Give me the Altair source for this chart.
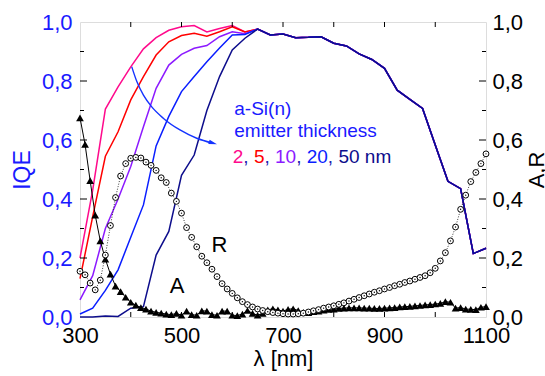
import altair as alt
import pandas as pd

# ---------------- data ----------------
iqe_wl = [300, 325, 350, 375, 400, 425, 450, 475, 500, 525, 550, 575, 600, 625, 650]
iqe_2nm = [0.20, 0.43, 0.705, 0.78, 0.848, 0.909, 0.947, 0.972, 0.984, 0.988, 0.966, 0.978, 0.988, 0.966, 0.976]
iqe_5nm = [0.13, 0.34, 0.545, 0.628, 0.736, 0.815, 0.888, 0.933, 0.954, 0.962, 0.952, 0.967, 0.984, 0.966, 0.976]
iqe_10nm = [0.058, 0.14, 0.30, 0.40, 0.51, 0.645, 0.775, 0.854, 0.89, 0.911, 0.92, 0.95, 0.967, 0.96, 0.976]
iqe_20nm = [0.01, 0.03, 0.09, 0.16, 0.27, 0.38, 0.58, 0.68, 0.764, 0.815, 0.865, 0.912, 0.956, 0.958, 0.976]
iqe_50nm = [0.0, 0.0, 0.003, 0.002, 0.03, 0.035, 0.21, 0.29, 0.48, 0.549, 0.70, 0.815, 0.905, 0.945, 0.976]
tail_wl = [675, 700, 725, 750, 775, 800, 825, 850, 875, 900, 925, 950, 975, 1000, 1025, 1050, 1075, 1100]
iqe_tail = [0.956, 0.959, 0.947, 0.948, 0.95, 0.928, 0.919, 0.892, 0.873, 0.843, 0.769, 0.738, 0.707, 0.583, 0.46, 0.435, 0.215, 0.233]

ar_wl = [300, 310, 320, 330, 340, 350, 360, 370, 380, 390, 400, 410, 420, 430, 440, 450, 460, 470, 480, 490,
         500, 510, 520, 530, 540, 550, 560, 570, 580, 590, 600, 610, 620, 630, 640, 650, 660, 670, 680, 690,
         700, 710, 720, 730, 740, 750, 760, 770, 780, 790, 800, 810, 820, 830, 840, 850, 860, 870, 880, 890,
         900, 910, 920, 930, 940, 950, 960, 970, 980, 990, 1000, 1010, 1020, 1030, 1040, 1050, 1060, 1070,
         1080, 1090, 1100]
refl = [0.155, 0.143, 0.115, 0.092, 0.125, 0.21, 0.31, 0.405, 0.478, 0.52, 0.538, 0.541, 0.539, 0.525, 0.514,
        0.497, 0.472, 0.456, 0.42, 0.392, 0.352, 0.303, 0.27, 0.238, 0.206, 0.184, 0.162, 0.137, 0.113, 0.095,
        0.08, 0.065, 0.052, 0.042, 0.034, 0.027, 0.022, 0.018, 0.015, 0.013, 0.011, 0.01, 0.01, 0.011, 0.013,
        0.017, 0.021, 0.025, 0.03, 0.034, 0.038, 0.043, 0.048, 0.054, 0.06, 0.066, 0.072, 0.078, 0.084, 0.089,
        0.095, 0.1, 0.106, 0.111, 0.117, 0.122, 0.128, 0.134, 0.14, 0.15, 0.165, 0.19, 0.218, 0.258, 0.305,
        0.365, 0.413, 0.459, 0.49, 0.52, 0.553]
absorb = [0.675, 0.585, 0.462, 0.345, 0.258, 0.196, 0.145, 0.105, 0.086, 0.067, 0.05, 0.04, 0.032, 0.027, 0.02,
          0.016, 0.013, 0.01, 0.008, 0.012, 0.006, 0.02, 0.008, 0.006, 0.021, 0.02, 0.008, 0.006, 0.02, 0.02,
          0.006, 0.005, 0.01, 0.022, 0.012, 0.006, 0.012, 0.024, 0.028, 0.024, 0.02, 0.026, 0.028, 0.022, 0.016,
          0.015, 0.018, 0.02, 0.023, 0.026, 0.027, 0.029, 0.03, 0.031, 0.031, 0.031, 0.03, 0.03, 0.029, 0.029,
          0.03, 0.031, 0.032, 0.034, 0.035, 0.036, 0.038, 0.039, 0.041, 0.042, 0.044, 0.046, 0.052, 0.05, 0.03,
          0.032, 0.027, 0.026, 0.025, 0.033, 0.035]

series_names = ["2 nm", "5 nm", "10 nm", "20 nm", "50 nm"]
series_colors = ["#ff0a8c", "#ff0000", "#8c1aff", "#0a1eff", "#0d0d8c"]
series_values = [iqe_2nm, iqe_5nm, iqe_10nm, iqe_20nm, iqe_50nm]

# arrow path (data units)
arrow_wl = [402, 412, 425, 441, 464, 497, 530, 562]
arrow_v = [0.848, 0.798, 0.752, 0.713, 0.674, 0.634, 0.606, 0.589]

# annotation texts
note_lines = ["a-Si(n)", "emitter thickness"]
thick_parts = ["2", ", ", "5", ", ", "10", ", ", "20", ", ", "50 nm"]
thick_colors = ["#ff0a8c", "#2020b0", "#ff0000", "#2020b0", "#8c1aff", "#2020b0", "#0a1eff", "#2020b0", "#0d0d8c"]

x_major = [300, 500, 700, 900, 1100]
x_minor = [400, 500, 600, 700, 800, 900, 1000]
y_major = [0.2, 0.4, 0.6, 0.8]
y_minor = [0.1, 0.3, 0.5, 0.7, 0.9]

# ---------------- layout ----------------
W, H = 406, 295
FONT = "Liberation Sans"
BLUE = "#1a1aff"
PX_PER_NM = W / 800.0

x_scale = alt.Scale(domain=[300, 1100], nice=False, zero=False)
y_scale = alt.Scale(domain=[0, 1], nice=False, zero=False)
comma = "replace(format(datum.value, '.1f'), '.', ',')"

x_axis = alt.Axis(orient="bottom", values=x_major, format="d", labelFont=FONT, labelFontSize=22,
                  labelColor="black", labelPadding=8, labelFlush=False, labelOverlap=False,
                  ticks=False, domain=False, grid=False, title="λ [nm]", titleFont=FONT,
                  titleFontSize=22, titleFontWeight="normal", titleColor="black",
                  titleX=W / 2, titleY=48, titleAlign="center", titleBaseline="alphabetic")
left_axis = alt.Axis(orient="left", values=[0, 0.2, 0.4, 0.6, 0.8, 1.0], labelExpr=comma,
                     labelFont=FONT, labelFontSize=22, labelColor=BLUE, labelPadding=8,
                     labelFlush=False, labelOverlap=False, ticks=False, domain=False, grid=False,
                     title="IQE", titleFont=FONT, titleFontSize=23, titleFontWeight="normal",
                     titleColor=BLUE, titleAngle=270, titleX=-58, titleY=H / 2,
                     titleAlign="center", titleBaseline="middle")
right_axis = alt.Axis(orient="right", values=[0, 0.2, 0.4, 0.6, 0.8, 1.0], labelExpr=comma,
                      labelFont=FONT, labelFontSize=22, labelColor="black", labelPadding=6,
                      labelFlush=False, labelOverlap=False, ticks=False, domain=False, grid=False,
                      title="A,R", titleFont=FONT, titleFontSize=22, titleFontWeight="normal",
                      titleColor="black", titleAngle=270, titleX=50, titleY=H / 2,
                      titleAlign="center", titleBaseline="middle")


def X():
    return alt.X("wl:Q", scale=x_scale, axis=x_axis)


def YL():
    return alt.Y("v:Q", scale=y_scale, axis=left_axis)


def YR():
    return alt.Y("v:Q", scale=y_scale, axis=right_axis)


# IQE lines
left_layers = []
for name, vals, col in zip(series_names, series_values, series_colors):
    df = pd.DataFrame({"wl": iqe_wl + tail_wl, "v": vals + iqe_tail})
    left_layers.append(alt.Chart(df).mark_line(color=col, strokeWidth=1.5).encode(x=X(), y=YL()))

# frame ticks (inward)
df_xt = pd.DataFrame({"wl": x_minor})
left_layers.append(alt.Chart(df_xt).mark_rule(color="black", strokeWidth=1).encode(
    x=X(), y=alt.value(H), y2=alt.value(H - 5)))
left_layers.append(alt.Chart(df_xt).mark_rule(color="black", strokeWidth=1).encode(
    x=X(), y=alt.value(0), y2=alt.value(5)))
for vals, ln in [(y_major, 7), (y_minor, 4)]:
    dft = pd.DataFrame({"v": vals})
    left_layers.append(alt.Chart(dft).mark_rule(color="black", strokeWidth=1).encode(
        y=YL(), x=alt.value(0), x2=alt.value(ln)))
    left_layers.append(alt.Chart(dft).mark_rule(color="black", strokeWidth=1).encode(
        y=YL(), x=alt.value(W - ln), x2=alt.value(W)))

# arrow
df_arrow = pd.DataFrame({"wl": arrow_wl, "v": arrow_v})
left_layers.append(alt.Chart(df_arrow).mark_line(color="#1433ff", strokeWidth=1.4,
                                                 interpolate="monotone").encode(x=X(), y=YL()))
df_head = pd.DataFrame({"wl": [562.0], "v": [0.5895]})
left_layers.append(alt.Chart(df_head).mark_point(
    shape="M -1 -0.55 L 1 0 L -1 0.55 Z", filled=True, color="#1433ff", size=70, angle=17,
    opacity=1).encode(x=X(), y=YL()))

# annotation text
df_notes = pd.DataFrame({"wl": [604, 604], "v": [0.685, 0.611], "t": note_lines})
left_layers.append(alt.Chart(df_notes).mark_text(
    align="left", baseline="alphabetic", font=FONT, fontSize=19, color="#1a1aff").encode(
    x=X(), y=YL(), text="t:N"))

part_wl = []
pos = 601.0
for p in thick_parts:
    part_wl.append(pos)
    w = sum({"2": 0.556, "5": 0.556, "1": 0.556, "0": 0.556, ",": 0.278, " ": 0.278,
             "n": 0.556, "m": 0.833}[c] for c in p) * 19
    pos += w / PX_PER_NM
df_parts = pd.DataFrame({"wl": part_wl, "v": [0.522] * len(thick_parts), "t": thick_parts,
                         "c": thick_colors})
left_layers.append(alt.Chart(df_parts).mark_text(
    align="left", baseline="alphabetic", font=FONT, fontSize=19).encode(
    x=X(), y=YL(), text="t:N", color=alt.Color("c:N", scale=None)))

df_lbl = pd.DataFrame({"wl": [559, 477], "v": [0.221, 0.081], "t": ["R", "A"]})
left_layers.append(alt.Chart(df_lbl).mark_text(
    align="left", baseline="alphabetic", font=FONT, fontSize=22, color="black").encode(
    x=X(), y=YL(), text="t:N"))

left = alt.layer(*left_layers)

# A and R
df_a = pd.DataFrame({"wl": ar_wl, "v": absorb})
df_r = pd.DataFrame({"wl": ar_wl, "v": refl})
right_layers = [
    alt.Chart(df_a).mark_line(color="black", strokeWidth=1).encode(x=X(), y=YR()),
    alt.Chart(df_a).mark_point(shape="triangle-up", filled=True, color="black", size=60,
                               opacity=1).encode(x=X(), y=YR()),
    alt.Chart(df_r).mark_line(color="#222222", strokeWidth=0.9, strokeDash=[1, 1.6]).encode(
        x=X(), y=YR()),
    alt.Chart(df_r).mark_point(shape="circle", filled=True, fill="white", stroke="black",
                               strokeWidth=1, size=34, opacity=1).encode(x=X(), y=YR()),
    alt.Chart(df_r).mark_point(shape="circle", filled=True, color="black", size=2,
                               opacity=1).encode(x=X(), y=YR()),
]
right = alt.layer(*right_layers)

chart = alt.layer(left, right).resolve_scale(y="independent").properties(
    width=W, height=H,
    autosize=alt.AutoSizeParams(type="none"),
    padding={"left": 80, "top": 22, "right": 59, "bottom": 59},
).configure_view(stroke="black", strokeWidth=1.3).configure(background="white")

chart.save("out.html", embed_options={"renderer": "svg", "actions": False})
